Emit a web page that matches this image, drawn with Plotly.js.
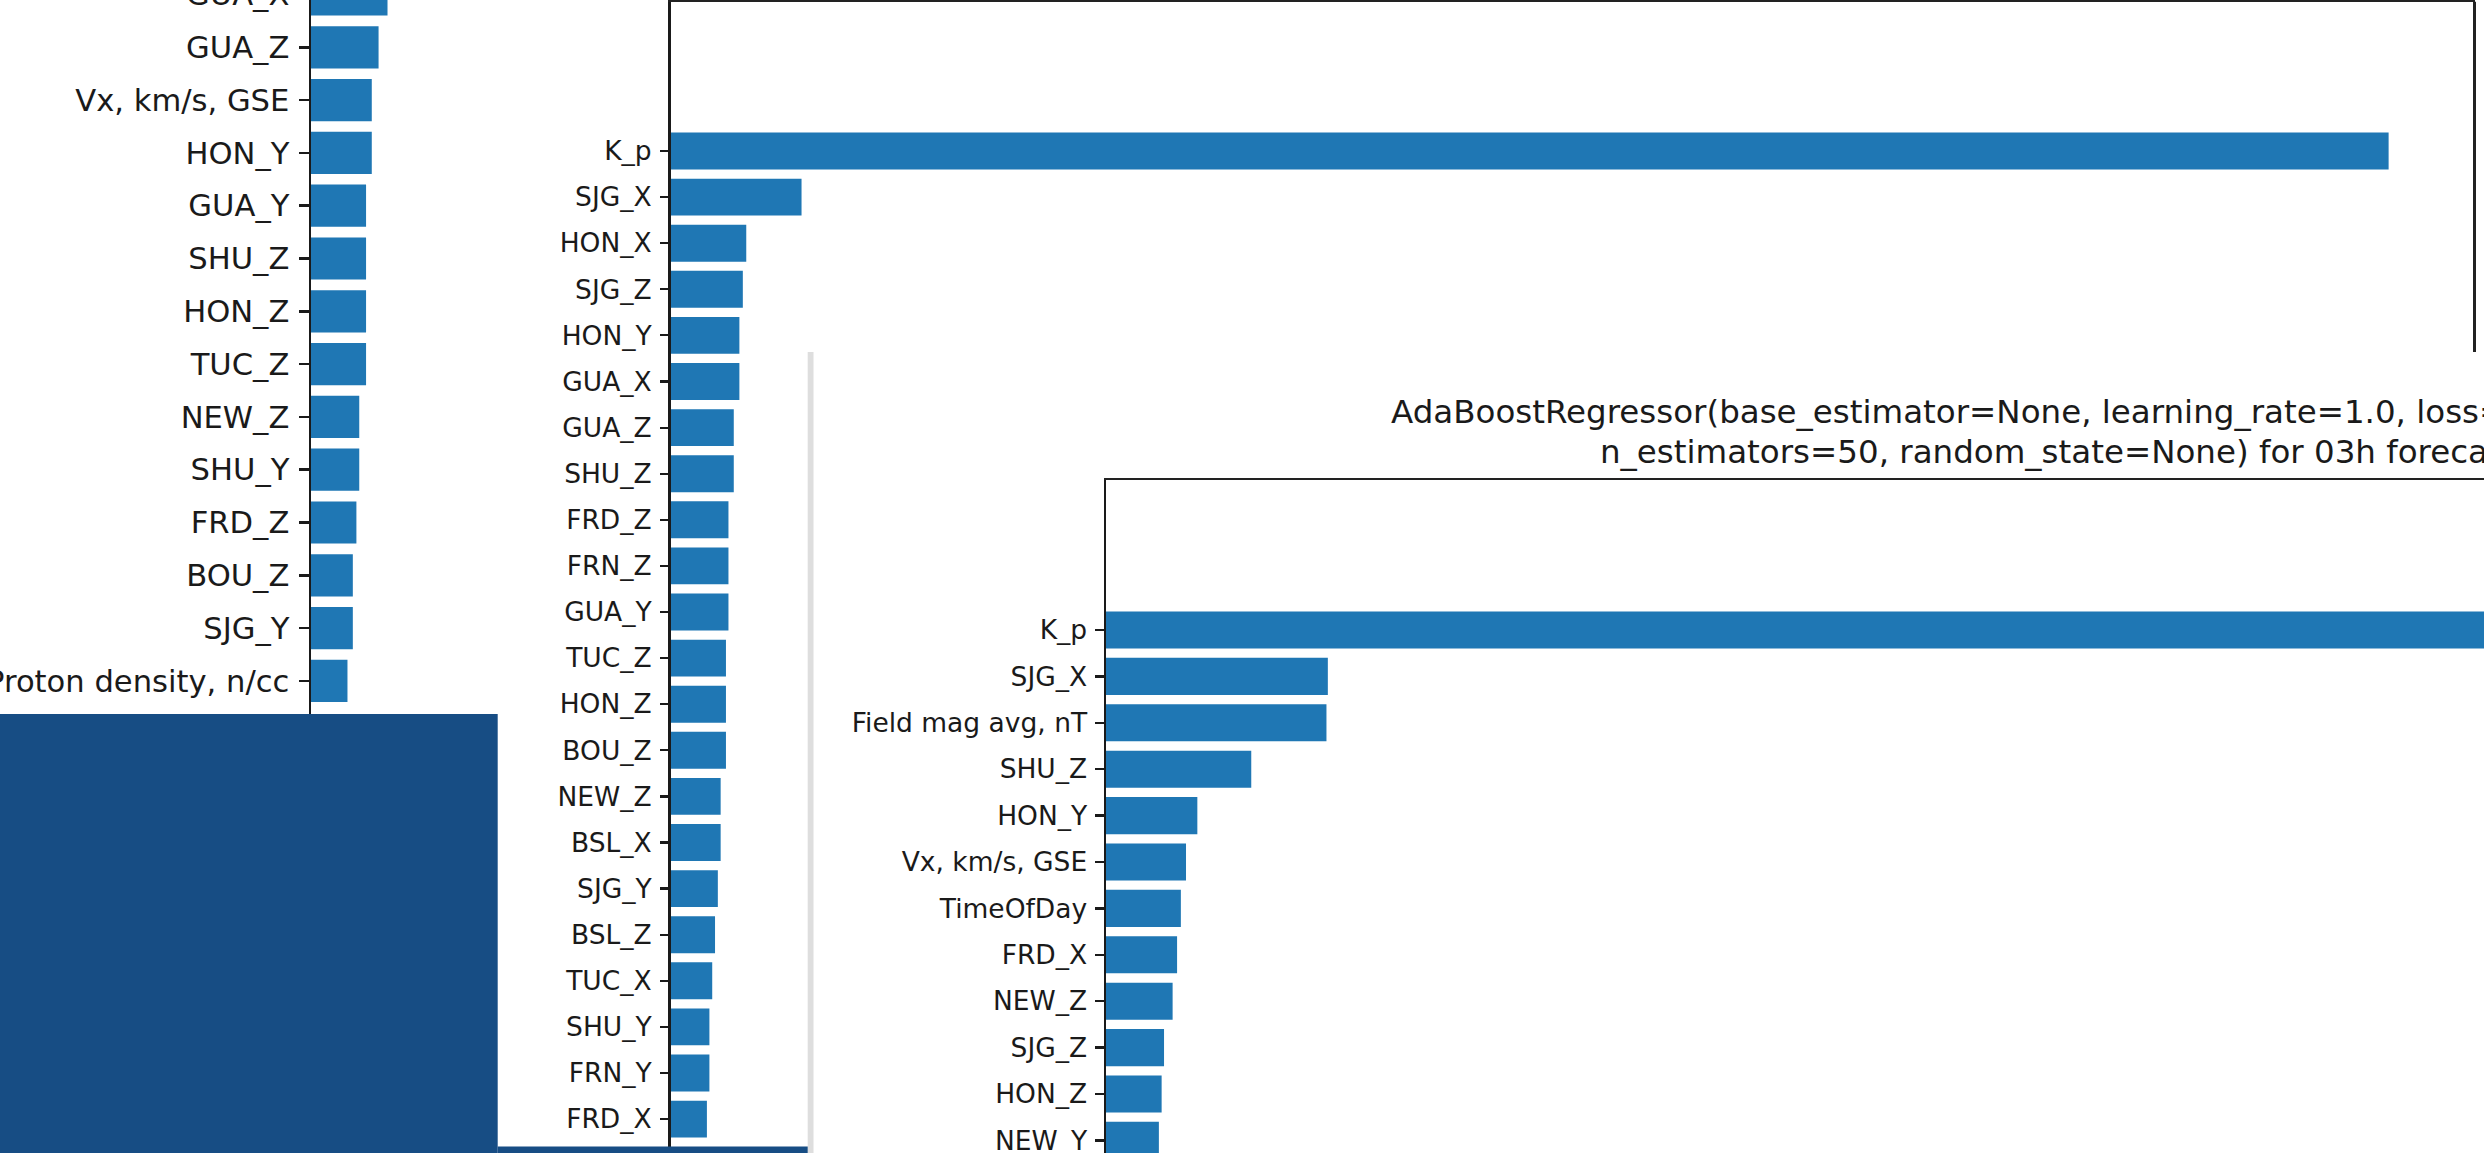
<!DOCTYPE html>
<html>
<head>
<meta charset="utf-8">
<script src="https://cdn.plot.ly/plotly-3.0.1.min.js"></script>
<style>
  html, body { margin: 0; padding: 0; overflow: hidden; background: #ffffff; }
  #chart { position: absolute; left: 0; top: -40px; width: 2484px; height: 1193px; }
</style>
</head>
<body>
<div id="chart"></div>
<script>
// Feature importances of three regressor windows stacked on top of each other.

// Back window (left): top of the ranking visible above the desktop corner
const featuresA = ["GUA_X", "GUA_Z", "Vx, km/s, GSE", "HON_Y", "GUA_Y", "SHU_Z", "HON_Z",
  "TUC_Z", "NEW_Z", "SHU_Y", "FRD_Z", "BOU_Z", "SJG_Y", "Proton density, n/cc"];
const importanceA = [0.0214, 0.0189, 0.0170, 0.0170, 0.0154, 0.0154, 0.0154,
  0.0154, 0.0135, 0.0135, 0.0127, 0.0117, 0.0117, 0.0102];

// Middle window
const featuresB = ["K_p", "SJG_X", "HON_X", "SJG_Z", "HON_Y", "GUA_X", "GUA_Z", "SHU_Z",
  "FRD_Z", "FRN_Z", "GUA_Y", "TUC_Z", "HON_Z", "BOU_Z", "NEW_Z", "BSL_X", "SJG_Y",
  "BSL_Z", "TUC_X", "SHU_Y", "FRN_Y", "FRD_X"];
const importanceB = [0.550, 0.0418, 0.0241, 0.0230, 0.0219, 0.0219, 0.0201, 0.0201,
  0.0184, 0.0184, 0.0184, 0.0176, 0.0176, 0.0176, 0.0159, 0.0159, 0.0150,
  0.0141, 0.0132, 0.0123, 0.0123, 0.0115];

// Front window: AdaBoost, 3-hour forecast
const featuresC = ["K_p", "SJG_X", "Field mag avg, nT", "SHU_Z", "HON_Y", "Vx, km/s, GSE",
  "TimeOfDay", "FRD_X", "NEW_Z", "SJG_Z", "HON_Z", "NEW_Y"];
const importanceC = [0.500, 0.0646, 0.0642, 0.0423, 0.0266, 0.0233,
  0.0218, 0.0207, 0.0194, 0.0169, 0.0162, 0.0154];

const titleC = [
  "AdaBoostRegressor(base_estimator=None, learning_rate=1.0, loss='linear',",
  "n_estimators=50, random_state=None) for 03h forecast"
];

// ---- page geometry (screen pixels) ----
const W = 2484, H = 1153, OFF = 40, HT = H + OFF;
const fx = px => px / W;
const fy = py => 1 - (py + OFF) / HT;

const BAR = '#1f77b4';
const INK = '#1a1a1a';
const DESK = '#174d84';
const FONT = 'DejaVu Sans, Verdana, sans-serif';

function barTrace(names, vals, xa, ya) {
  return {
    type: 'bar', orientation: 'h', x: vals, y: names, width: 0.8,
    xaxis: xa, yaxis: ya, marker: { color: BAR, line: { width: 0 } },
    hoverinfo: 'skip'
  };
}

// category axis: row i centred at pixel row0 + i*step, clipped to [top, bottom]
function catAxis(names, row0, step, top, bottom, size, tlen, twid, lwid, standoff, anchor) {
  return {
    type: 'category', categoryorder: 'array', categoryarray: names,
    domain: [fy(bottom), fy(top)],
    range: [(bottom - row0) / step, (top - row0) / step],
    anchor: anchor, showline: true, linecolor: INK, linewidth: lwid,
    ticks: 'outside', ticklen: tlen, tickwidth: twid, tickcolor: INK,
    ticklabelstandoff: standoff,
    tickfont: { family: FONT, size: size, color: INK },
    showgrid: false, zeroline: false, fixedrange: true, automargin: false
  };
}

const data = [
  barTrace(featuresA, importanceA, 'x', 'y'),
  barTrace(featuresB, importanceB, 'x2', 'y2'),
  barTrace(featuresC, importanceC, 'x3', 'y3')
];

const pxA = 3575;            // pixels per unit importance, back window
const pxC = 1717 / importanceC[0];

const layout = {
  width: W, height: HT,
  margin: { l: 0, r: 0, t: 0, b: 0 },
  paper_bgcolor: '#ffffff', plot_bgcolor: 'rgba(0,0,0,0)',
  showlegend: false,
  xaxis: {
    domain: [fx(311), fx(497)], range: [0, (497 - 311) / pxA], anchor: 'y',
    visible: false, fixedrange: true
  },
  yaxis: catAxis(featuresA, -5.5, 52.8, -OFF, 714, 30.6, 10, 2.5, 2.5, 3, 'x'),
  xaxis2: {
    domain: [fx(671), fx(2474.5)], range: [0, importanceB[0] * 1.05], anchor: 'y2',
    side: 'top', showline: true, linecolor: '#222', linewidth: 3,
    ticks: '', showticklabels: false, showgrid: false, zeroline: false, fixedrange: true
  },
  yaxis2: catAxis(featuresB, 151, 46.1, 1.7, 1146.5, 26.5, 8, 2.2, 3, 3, 'x2'),
  xaxis3: {
    domain: [fx(1106), 1], range: [0, (W - 1106) / pxC], anchor: 'y3',
    side: 'top', showline: true, linecolor: '#222', linewidth: 2.5,
    ticks: '', showticklabels: false, showgrid: false, zeroline: false, fixedrange: true
  },
  yaxis3: catAxis(featuresC, 630, 46.4, 480, H, 26.5, 9, 2.2, 2.5, 2, 'x3'),
  shapes: [
    // right edge of the middle window's frame
    { type: 'line', xref: 'paper', yref: 'paper', x0: fx(2474.5), x1: fx(2474.5),
      y0: fy(1.7), y1: fy(352), line: { color: '#222', width: 3 } },
    // shadow border on the left of the front window
    { type: 'rect', xref: 'paper', yref: 'paper', x0: fx(807.7), x1: fx(813.5),
      y0: fy(352), y1: fy(H), fillcolor: '#dedede', line: { width: 0 }, layer: 'above' },
    // desktop showing around the windows
    { type: 'rect', xref: 'paper', yref: 'paper', x0: 0, x1: fx(497.7),
      y0: fy(714), y1: fy(H), fillcolor: DESK, line: { width: 0 }, layer: 'above' },
    { type: 'rect', xref: 'paper', yref: 'paper', x0: fx(497.7), x1: fx(807.7),
      y0: fy(1146.5), y1: fy(H), fillcolor: DESK, line: { width: 0 }, layer: 'above' }
  ],
  annotations: [
    { text: titleC[0], xref: 'paper', yref: 'paper', x: fx(1388.5), y: fy(411.7),
      xanchor: 'left', yanchor: 'middle', showarrow: false,
      font: { family: FONT, size: 32.5, color: INK } },
    { text: titleC[1], xref: 'paper', yref: 'paper', x: fx(1598), y: fy(451.7),
      xanchor: 'left', yanchor: 'middle', showarrow: false,
      font: { family: FONT, size: 32.5, color: INK } }
  ]
};

Plotly.newPlot('chart', data, layout, { staticPlot: true, displayModeBar: false });
</script>
</body>
</html>
